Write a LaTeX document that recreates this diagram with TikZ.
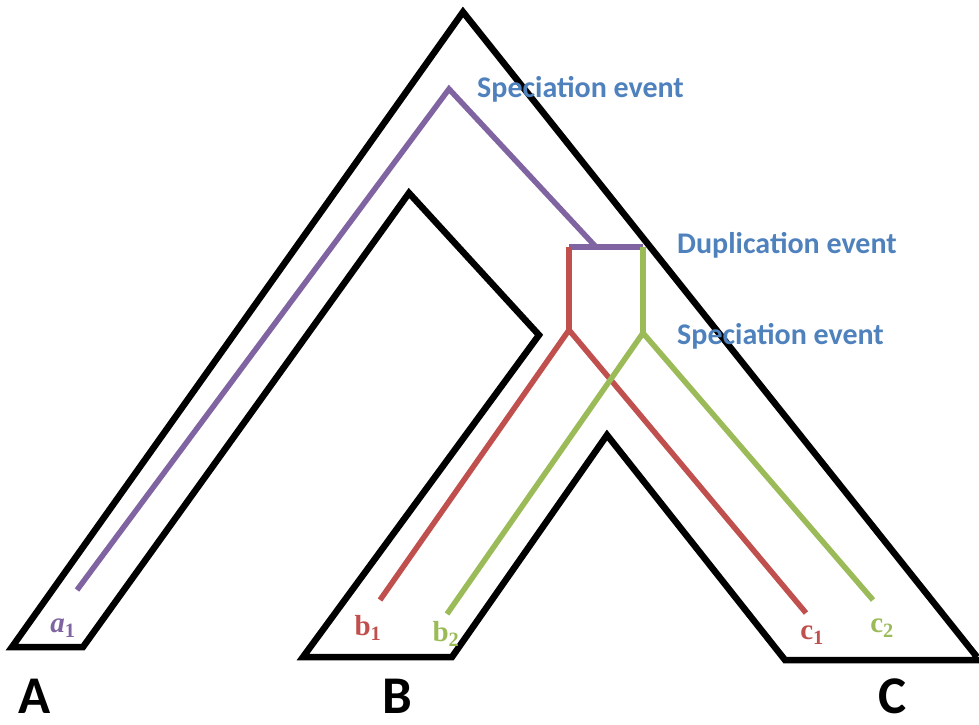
\documentclass[tikz,border=0pt]{standalone}
\usepackage{fontspec}
\setmainfont{Carlito}
\newfontfamily\leaffont{Liberation Serif}
\definecolor{evblue}{HTML}{4F81BD}
\definecolor{genepurple}{HTML}{8064A2}
\definecolor{genered}{HTML}{C0504D}
\definecolor{genegreen}{HTML}{9BBB59}
\tikzstyle{wall}=[line width=6.5pt,draw=black,line join=miter]
\tikzstyle{gene}=[line width=5.5pt,draw=#1]
\tikzstyle{event}=[text=evblue,anchor=base west,inner sep=0pt,font=\bfseries\fontsize{30}{34}\selectfont]
\tikzstyle{species}=[anchor=base,inner sep=0pt,font=\bfseries\fontsize{53}{56}\selectfont]
\newcommand{\leaf}[4]{\node[text=#1,inner sep=0pt,font=\leaffont\bfseries\fontsize{29}{30}\selectfont] (#2) at (#3) {#4};}

\begin{document}
\begin{tikzpicture}[x=1pt,y=-1pt]
    \useasboundingbox (0,0) rectangle (979,724);
    % species tree outline
    \coordinate (top) at (463,12);
    \coordinate (aL) at (12,647);
    \coordinate (aR) at (83,647);
    \coordinate (abTop) at (409,193);
    \coordinate (abKnee) at (539,335);
    \coordinate (bL) at (303,657);
    \coordinate (bR) at (452,657);
    \coordinate (bcTop) at (607,435);
    \coordinate (cL) at (785,660);
    \coordinate (cR) at (979,660);
    \coordinate (cOut) at (977,657);
    \draw[wall] (cOut) -- (top) -- (aL) -- (aR) -- (abTop) -- (abKnee) -- (bL)
        -- (bR) -- (bcTop) -- (cL) -- (cR);

    % gene tree
    \coordinate (aEnd) at (77,590);
    \coordinate (spec1) at (449,89);
    \coordinate (dup) at (596,247);
    \coordinate (dupL) at (569,247);
    \coordinate (dupR) at (643,247);
    \coordinate (spec2L) at (569,330);
    \coordinate (spec2R) at (643,333);
    \coordinate (b1End) at (380,600);
    \coordinate (c1End) at (806,613);
    \coordinate (b2End) at (447,614);
    \coordinate (c2End) at (873,600);
    \draw[gene=genepurple] (aEnd) -- (spec1) -- (dup);
    \draw[gene=genepurple] (dupL) -- (dupR);
    \draw[gene=genered] (dupL) -- (spec2L);
    \draw[gene=genered] (b1End) -- (spec2L) -- (c1End);
    \draw[gene=genegreen] (dupR) -- (spec2R);
    \draw[gene=genegreen] (b2End) -- (spec2R) -- (c2End);

    % events
    \node[event] (ev1) at (477,97) {Speciation event};
    \node[event] (ev2) at (677,253) {Duplication event};
    \node[event] (ev3) at (677,344) {Speciation event};

    % leaves
    \leaf{genepurple}{a1}{63,628}{\textit{a}\textsubscript{1}}
    \leaf{genered}{b1}{368,628}{b\textsubscript{1}}
    \leaf{genegreen}{b2}{446,634}{b\textsubscript{2}}
    \leaf{genered}{c1}{812,635}{c\textsubscript{1}}
    \leaf{genegreen}{c2}{882,628}{c\textsubscript{2}}

    % species
    \node[species] (A) at (35,713) {A};
    \node[species] (B) at (397,713) {B};
    \node[species] (C) at (893,713) {C};
\end{tikzpicture}
\end{document}
